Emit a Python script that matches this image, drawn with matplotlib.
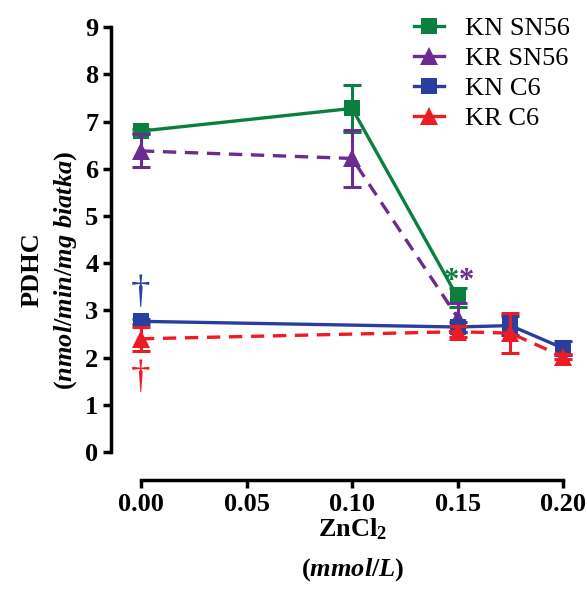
import matplotlib
matplotlib.use("Agg")
import matplotlib.pyplot as plt

# ==========================================
# Data
# ==========================================

x_sn56 = [0.0, 0.10, 0.15]
kn_sn56 = [6.80, 7.28, 3.28]
kn_sn56_err = [0.05, 0.50, 0.20]
kr_sn56 = [6.38, 6.22, 2.85]
kr_sn56_err = [0.35, 0.60, 0.30]

x_c6 = [0.0, 0.15, 0.175, 0.20]
kn_c6 = [2.77, 2.65, 2.68, 2.20]
kn_c6_err = [0.05, 0.10, 0.20, 0.15]
kr_c6 = [2.40, 2.55, 2.52, 2.02]
kr_c6_err = [0.25, 0.12, 0.42, 0.05]

x_ticks = [0.00, 0.05, 0.10, 0.15, 0.20]
x_tick_labels = ["0.00", "0.05", "0.10", "0.15", "0.20"]
y_ticks = list(range(0, 10))

# ==========================================
# Style
# ==========================================

plt.rcParams["font.family"] = ["Liberation Serif", "DejaVu Serif"]
plt.rcParams["mathtext.fontset"] = "custom"
plt.rcParams["mathtext.rm"] = "Liberation Serif:bold"
plt.rcParams["mathtext.it"] = "Liberation Serif:italic:bold"
plt.rcParams["mathtext.default"] = "regular"

green = "#0b7f3e"
purple = "#6b2c91"
blue = "#2a3f9d"
red = "#ed1c24"

fig = plt.figure(figsize=(5.87, 5.92), dpi=100)
ax = fig.add_axes([0.189, 0.189, 0.791, 0.777])

dash = (0, (4, 2.6))

series = [
    (x_sn56, kn_sn56, kn_sn56_err, green, "s", "-", "KN SN56"),
    (x_sn56, kr_sn56, kr_sn56_err, purple, "^", dash, "KR SN56"),
    (x_c6, kn_c6, kn_c6_err, blue, "s", "-", "KN C6"),
    (x_c6, kr_c6, kr_c6_err, red, "^", dash, "KR C6"),
]

handles = []
for xs, ys, es, col, mk, ls, lab in series:
    ax.errorbar(
        xs, ys, yerr=es,
        color=col, fmt="none",
        elinewidth=2.2, capsize=6.5, capthick=2.2
    )
    ax.plot(
        xs, ys,
        color=col, linestyle=ls, linewidth=2.4,
        marker=mk, markersize=11 if mk == "s" else 13,
        markeredgewidth=0
    )
    h, = ax.plot(
        [], [],
        color=col, linestyle="-", linewidth=2.4,
        marker=mk, markersize=11 if mk == "s" else 13,
        markeredgewidth=0, label=lab
    )
    handles.append(h)

# significance marks
ax.text(0.1505, 3.3, "*", color=green, fontsize=22, fontweight="bold",
        ha="right", va="bottom")
ax.text(0.1505, 3.3, "*", color=purple, fontsize=22, fontweight="bold",
        ha="left", va="bottom")
ax.text(0.0, 3.39, "\u2020", color=blue, fontsize=28, ha="center", va="center")
ax.text(0.0, 1.57, "\u2020", color=red, fontsize=28, ha="center", va="center")

# ==========================================
# Axes
# ==========================================

ax.set_xlim(-0.0142, 0.2057)
ax.set_ylim(-0.593, 9.15)

for s in ["top", "right"]:
    ax.spines[s].set_visible(False)
ax.spines["left"].set_bounds(0, 9)
ax.spines["bottom"].set_bounds(0, 0.2)
ax.spines["left"].set_linewidth(2.5)
ax.spines["bottom"].set_linewidth(2.5)

ax.set_xticks(x_ticks)
ax.set_xticklabels(x_tick_labels)
ax.set_yticks(y_ticks)
ax.tick_params(width=2.5, length=6, labelsize=19, pad=3)
for t in ax.get_xticklabels() + ax.get_yticklabels():
    t.set_fontweight("bold")

ax.set_ylabel("PDHC\n($\\mathit{nmol/min/mg\\ biatka}$)",
              fontsize=19, fontweight="bold", linespacing=1.45)
ax.yaxis.set_label_coords(-0.068, 0.457)
ax.set_xlabel("ZnCl$_2$\n($\\mathit{mmol/L}$)",
              fontsize=19, fontweight="bold", linespacing=1.75)
ax.xaxis.set_label_coords(0.52, -0.078)
ax.xaxis.label.set_va("top")

ax.legend(
    handles=handles,
    loc="upper right",
    bbox_to_anchor=(1.04, 1.06),
    frameon=False,
    fontsize=19,
    handlelength=1.15,
    labelspacing=0.25,
    handletextpad=0.8
)

fig.savefig("out.png", dpi=100)
